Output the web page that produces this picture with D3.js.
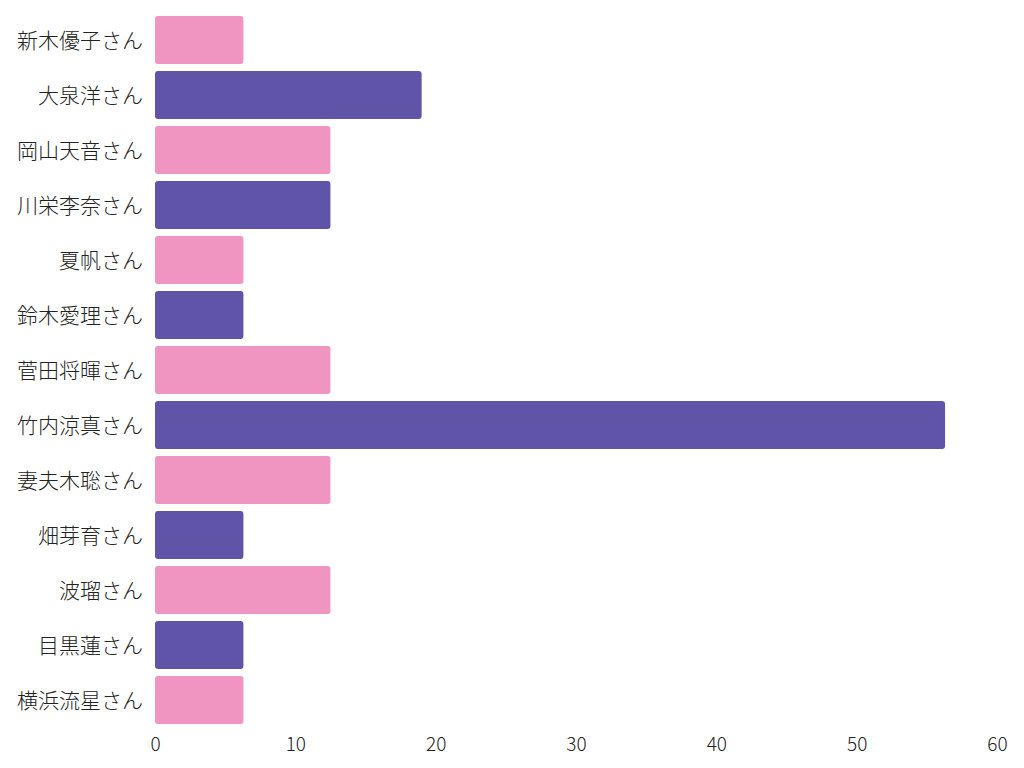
<!DOCTYPE html>
<html><head><meta charset="utf-8">
<script src="https://cdn.jsdelivr.net/npm/d3@7"></script>
<style>body{margin:0;background:#fff}</style>
</head><body>
<svg id="c" width="1024" height="768"></svg>
<script>
const names = ["新木優子さん","大泉洋さん","岡山天音さん","川栄李奈さん","夏帆さん","鈴木愛理さん","菅田将暉さん","竹内涼真さん","妻夫木聡さん","畑芽育さん","波瑠さん","目黒蓮さん","横浜流星さん"];
const values = [6.3,19,12.5,12.5,6.3,6.3,12.5,56.3,12.5,6.3,12.5,6.3,6.3];
const colors = ["#f095c1","#6054a8"];
const xTicks = [0,10,20,30,40,50,60];

const svg = d3.select("#c");
const font = "'Noto Sans CJK JP','Noto Sans',sans-serif";
const x = d3.scaleLinear().domain([0,60]).range([155,997]);
const y = d3.scaleBand().domain(names).range([12.5,727.5]).paddingInner(7/55).paddingOuter(3.5/55);

svg.selectAll("rect.bar").data(names).enter().append("rect")
  .attr("class","bar")
  .attr("x",x(0)).attr("y",d=>y(d))
  .attr("width",(d,i)=>x(values[i])-x(0))
  .attr("height",y.bandwidth())
  .attr("rx",3).attr("ry",3)
  .attr("fill",(d,i)=>colors[i%2]);

const yAxis = d3.axisLeft(y).tickSize(0).tickPadding(12);
const gy = svg.append("g").attr("transform",`translate(${x(0)},1)`).call(yAxis);
gy.select(".domain").remove();
gy.selectAll("text").attr("font-family",font).attr("font-size",21).attr("font-weight",300).attr("fill","#222");

const xAxis = d3.axisBottom(x).tickValues(xTicks).tickSize(0).tickPadding(8);
const gx = svg.append("g").attr("transform",`translate(0,729)`).call(xAxis);
gx.select(".domain").remove();
gx.selectAll("text").attr("font-family",font).attr("font-size",19).attr("font-weight",300).attr("fill","#222");
</script>
</body></html>
